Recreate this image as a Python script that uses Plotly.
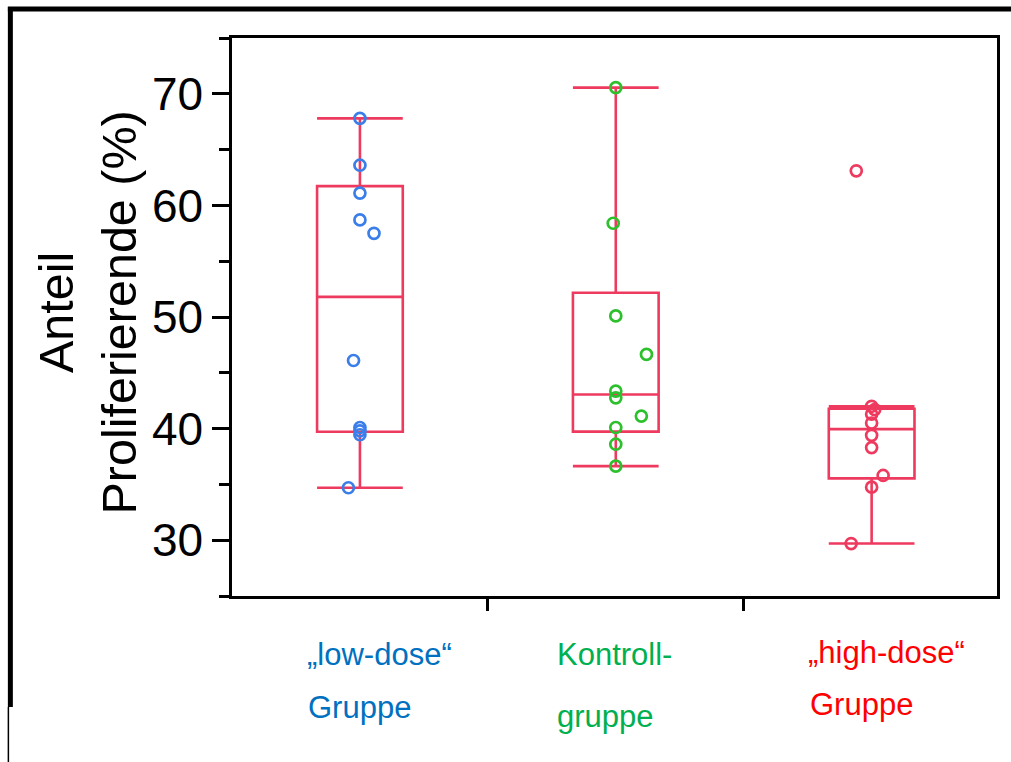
import numpy as np
import plotly.graph_objects as go

# ---- data ----
groups = ["low-dose", "Kontrolle", "high-dose"]
low_dose = [67.8, 63.6, 61.1, 58.7, 57.5, 46.1, 40.1, 39.8, 39.45, 34.7]
kontrolle = [70.55, 58.4, 50.1, 46.65, 43.36, 42.76, 41.12, 40.1, 38.6, 36.64]
high_dose = [63.1, 42.0, 41.7, 41.3, 40.5, 39.4, 38.3, 35.8, 34.75, 29.7]
# horizontal jitter of the points (in category units)
jitter_low = [0, 0, 0, 0, 0.055, -0.025, 0, 0, 0, -0.045]
jitter_kon = [0, -0.01, 0, 0.12, 0, 0, 0.10, 0, 0, 0]
jitter_high = [-0.06, 0, 0.012, 0, 0, 0, 0, 0.045, 0, -0.08]
label_lines = [["\u201elow-dose\u201c", "Gruppe"],
               ["Kontroll-", "gruppe"],
               ["\u201ehigh-dose\u201c", "Gruppe"]]
y_ticks = [30, 40, 50, 60, 70]
y_minor = [25, 35, 45, 55, 65, 75]

# ---- style ----
FONT = "Liberation Sans, Arial, sans-serif"
BOX_COLOR = "#EE3A5E"
POINT_COLORS = ["#3A7EEA", "#2CC02C", "#EE3A5E"]
LABEL_COLORS = ["#0070C0", "#00B050", "#FF0000"]

series = [low_dose, kontrolle, high_dose]
jitters = [jitter_low, jitter_kon, jitter_high]

def box_stats(vals):
    v = np.sort(np.asarray(vals, dtype=float))
    q1, med, q3 = np.percentile(v, [25, 50, 75], method="weibull")
    iqr = q3 - q1
    lo = v[v >= q1 - 1.5 * iqr].min()
    hi = v[v <= q3 + 1.5 * iqr].max()
    return q1, med, q3, lo, hi

fig = go.Figure()
for i, vals in enumerate(series):
    q1, med, q3, lo, hi = box_stats(vals)
    fig.add_trace(go.Box(
        x=[i], q1=[q1], median=[med], q3=[q3], lowerfence=[lo], upperfence=[hi],
        width=0.335, whiskerwidth=1, boxpoints=False,
        fillcolor="rgba(0,0,0,0)", line=dict(color=BOX_COLOR, width=2.6),
        showlegend=False, hoverinfo="skip"))
for i, vals in enumerate(series):
    fig.add_trace(go.Scatter(
        x=[i + j for j in jitters[i]], y=vals, mode="markers",
        marker=dict(symbol="circle-open", size=11, color=POINT_COLORS[i],
                    line=dict(width=2.7, color=POINT_COLORS[i])),
        showlegend=False))

L, R, T, B = 232, 11, 38, 166
PW, PH = 1011 - L - R, 762 - T - B

annotations = []
line_y = [[-0.1057, -0.2007], [-0.1057, -0.2168], [-0.1004, -0.1953]]
line_dx = [[-0.214, -0.210], [-0.236, -0.236], [-0.255, -0.247]]
for i, lines in enumerate(label_lines):
    for k, txt in enumerate(lines):
        annotations.append(dict(
            text=txt, xref="x", yref="paper", x=i + line_dx[i][k], y=line_y[i][k],
            xanchor="left", yanchor="middle", showarrow=False,
            font=dict(family=FONT, size=31, color=LABEL_COLORS[i])))
annotations.append(dict(
    text="Anteil<br>Proliferierende (%)", xref="paper", yref="paper",
    x=(86 - L) / PW, y=(596 - 313) / PH, xanchor="center", yanchor="middle",
    textangle=-90, showarrow=False,
    font=dict(family=FONT, size=48.5, color="black")))

def px(xp):
    return (xp - L) / PW

def py(yp):
    return (596 - yp) / PH

shapes = [
    # slide frame: top and left thick black lines
    dict(type="line", xref="paper", yref="paper",
         x0=px(7), x1=px(1015), y0=py(9), y1=py(9),
         line=dict(color="black", width=5)),
    dict(type="line", xref="paper", yref="paper",
         x0=px(9.5), x1=px(9.5), y0=py(7), y1=py(707),
         line=dict(color="black", width=5)),
    dict(type="line", xref="paper", yref="paper",
         x0=px(7.5), x1=px(7.5), y0=py(707), y1=py(770),
         line=dict(color="black", width=1.5)),
]

fig.update_layout(
    width=1011, height=762,
    margin=dict(l=L, r=R, t=T, b=B),
    paper_bgcolor="white", plot_bgcolor="white",
    font=dict(family=FONT, color="black"),
    showlegend=False,
    annotations=annotations,
    shapes=shapes,
    xaxis=dict(range=[-0.5, 2.49], showgrid=False, zeroline=False,
               showline=True, linecolor="black", linewidth=2.5, mirror=True,
               tickvals=[0.5, 1.5], ticks="outside", ticklen=12, tickwidth=2.5,
               tickcolor="black", showticklabels=False),
    yaxis=dict(range=[25, 75], showgrid=False, zeroline=False,
               showline=True, linecolor="black", linewidth=2.5, mirror=True,
               tickvals=y_ticks, ticktext=[str(t) for t in y_ticks],
               ticks="outside", ticklen=17, tickwidth=2.5, tickcolor="black",
               tickfont=dict(family=FONT, size=46, color="black"),
               minor=dict(tickvals=y_minor, ticks="outside", ticklen=10,
                          tickwidth=2.5, tickcolor="black")),
)

fig.write_html("out.html")
